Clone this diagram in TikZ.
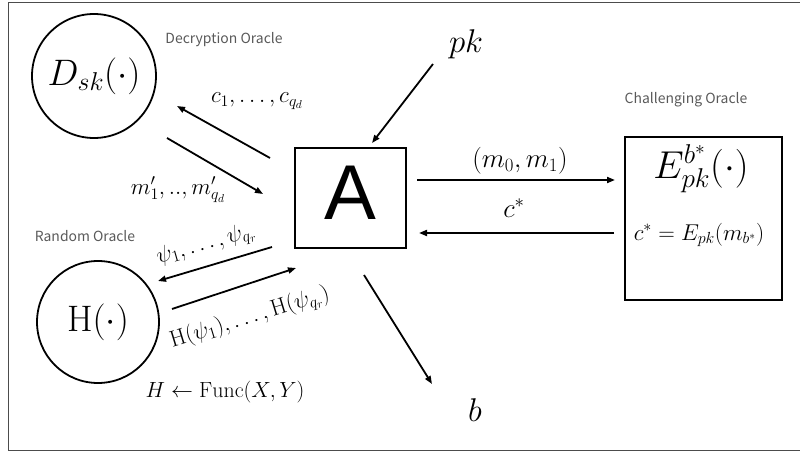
\documentclass[tikz,border=0pt]{standalone}
\usepackage{fix-cm}
\usepackage{fontspec}
\newfontfamily\cjk{Noto Sans CJK JP}
\newfontfamily\sansA{Liberation Sans}
\usetikzlibrary{arrows.meta}
\tikzset{
  frame/.style={draw=black!70, line width=1bp},
  oracle/.style={font=\cjk\fontsize{14}{16}\selectfont, text=black!65, inner sep=0},
  orb/.style={circle, draw, line width=1.8bp, inner sep=0},
  arr/.style={-{Triangle[length=8bp,width=6bp]}, line width=1.8bp},
  lbl/.style={font=\fontsize{23}{26}\selectfont, inner sep=0},
  big/.style={font=\fontsize{27}{30}\selectfont, inner sep=0},
}
\begin{document}
\begin{tikzpicture}[x=1bp, y=-1bp]
\useasboundingbox (0,0) rectangle (800,452);
\draw[frame] (802,3) -- (8,3) -- (8,450.5) -- (802,450.5);

% oracles
\node[orb, minimum size=124bp, font=\fontsize{37}{40}\selectfont] (D) at (94,76) {$D_{sk}(\cdot)$};
\node[orb, minimum size=122bp, font=\fontsize{37}{40}\selectfont] (H) at (98,322) {$\mathrm{H}(\cdot)$};
\node[oracle] (Dlab) at (224,40) {Decryption Oracle};
\node[oracle] (Hlab) at (85,236) {Random Oracle};
\node[oracle] (Elab) at (686,100) {Challenging Oracle};

% adversary
\node[draw, line width=1.5bp, minimum width=111bp, minimum height=100bp, inner sep=0] (A) at (350.5,198) {};
\node[font=\sansA\fontsize{78}{80}\selectfont, inner sep=0] (Atext) at (350.5,192.5) {A};

% challenger
\node[draw, line width=2.5bp, minimum width=157bp, minimum height=163bp, inner sep=0] (E) at (703.5,218.5) {};
\node[font=\fontsize{39}{42}\selectfont, inner sep=0] (Et) at (701,169) {$E^{b^*}_{pk}(\cdot)$};
\node[font=\fontsize{23}{26}\selectfont, inner sep=0] (Ec) at (699,235) {$c^*=E_{pk}(m_{b^*})$};

% free texts
\node[font=\fontsize{33}{36}\selectfont, inner sep=0] (pk) at (466,44) {$pk$};
\node[font=\fontsize{33}{36}\selectfont, inner sep=0] (b) at (475,410) {$b$};
\node[lbl, font=\fontsize{22}{24}\selectfont] (func) at (225,392) {$H \leftarrow \mathrm{Func}(X,Y)$};

% arrow end points
\coordinate (c1s) at (270,158); \coordinate (c1e) at (177,106);
\coordinate (m1s) at (167,138); \coordinate (m1e) at (263,194);
\coordinate (p1s) at (272,247); \coordinate (p1e) at (158,281);
\coordinate (h1s) at (172,309); \coordinate (h1e) at (296,268);
\coordinate (pks) at (433,64);  \coordinate (pke) at (372,143);
\coordinate (m0s) at (417,180); \coordinate (m0e) at (615,180);
\coordinate (css) at (614,233); \coordinate (cse) at (419,233);
\coordinate (bs)  at (364,275); \coordinate (be)  at (432,384);

\draw[arr] (c1s) -- (c1e);
\draw[arr] (m1s) -- (m1e);
\draw[arr] (p1s) -- (p1e);
\draw[arr] (h1s) -- (h1e);
\draw[arr] (pks) -- (pke);
\draw[arr] (m0s) -- (m0e);
\draw[arr] (css) -- (cse);
\draw[arr] (bs) -- (be);

% arrow labels
\node[lbl] (c1l) at (257,101) {$c_1,\ldots,c_{q_d}$};
\node[lbl] (m1l) at (178,190) {$m'_1,..,m'_{q_d}$};
\node[lbl, rotate=16] (p1l) at (206,245) {$\psi_1,\ldots,\psi_{q_r}$};
\node[lbl, rotate=17] (h1l) at (250,318) {$\mathrm{H}(\psi_1),\ldots,\mathrm{H}(\psi_{q_r})$};
\node[big] (m0l) at (520,161) {$(m_0,m_1)$};
\node[big] (csl) at (514,208) {$c^*$};
\end{tikzpicture}
\end{document}
